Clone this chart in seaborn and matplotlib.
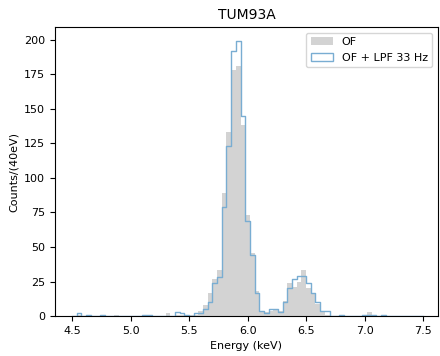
import numpy as np
import pandas as pd
import matplotlib
matplotlib.use("Agg")
import matplotlib.pyplot as plt
from matplotlib.patches import Patch
import seaborn as sns

# 40 eV bins starting at 4.5 keV
bin_width = 0.04
edges = np.round(4.5 + bin_width * np.arange(76), 2)
centers = edges[:-1] + bin_width / 2

# counts per bin (index k -> 4.50 + 0.04 k keV)
counts_of = [0, 1, 0, 0, 0, 0, 0, 0, 0, 1,
             0, 0, 0, 0, 0, 1, 0, 0, 0, 0,
             2, 0, 1, 1, 1, 1, 1, 4, 8, 17,
             27, 33, 89, 133, 178, 181, 138, 73, 46, 18,
             3, 3, 4, 5, 4, 11, 24, 21, 25, 33,
             20, 17, 9, 3, 1, 0, 0, 0, 0, 0,
             0, 0, 0, 3, 1, 0, 0, 0, 0, 0,
             0, 0, 0, 0, 0]
counts_lpf = [0, 2, 0, 1, 0, 0, 1, 0, 0, 0,
              0, 0, 0, 0, 0, 1, 1, 0, 0, 0,
              0, 0, 3, 2, 1, 0, 2, 2, 5, 10,
              24, 28, 79, 123, 192, 199, 145, 69, 44, 17,
              4, 2, 5, 5, 3, 10, 20, 27, 29, 29,
              24, 17, 10, 4, 4, 0, 0, 1, 0, 0,
              0, 0, 1, 1, 1, 0, 1, 0, 0, 0,
              0, 0, 0, 0, 0]

df = pd.DataFrame({'energy': centers, 'of': counts_of, 'lpf': counts_lpf})

blue = '#79add2'

fig, ax = plt.subplots(figsize=(4.4, 3.56), dpi=100)
sns.histplot(data=df, x='energy', weights='of', bins=edges.tolist(), element='bars',
             color='lightgray', edgecolor='none', alpha=1.0, linewidth=0, ax=ax)
sns.histplot(data=df, x='energy', weights='lpf', bins=edges.tolist(), element='step',
             fill=False, color=blue, linewidth=1.0, ax=ax)

ax.set_xlim(4.355, 7.625)
ax.set_ylim(0, 209)
ax.set_xticks([4.5, 5.0, 5.5, 6.0, 6.5, 7.0, 7.5])
ax.set_title('TUM93A', fontsize=10)
ax.set_xlabel('Energy (keV)', fontsize=8)
ax.set_ylabel('Counts/(40eV)', fontsize=8)
ax.tick_params(labelsize=8)

handles = [Patch(facecolor='lightgray', edgecolor='none', label='OF'),
           Patch(facecolor='none', edgecolor=blue, linewidth=1.0, label='OF + LPF 33 Hz')]
ax.legend(handles=handles, loc='upper right', fontsize=8)

plt.subplots_adjust(left=0.125, right=0.995, top=0.924, bottom=0.112)
plt.savefig('out.png', dpi=100)
